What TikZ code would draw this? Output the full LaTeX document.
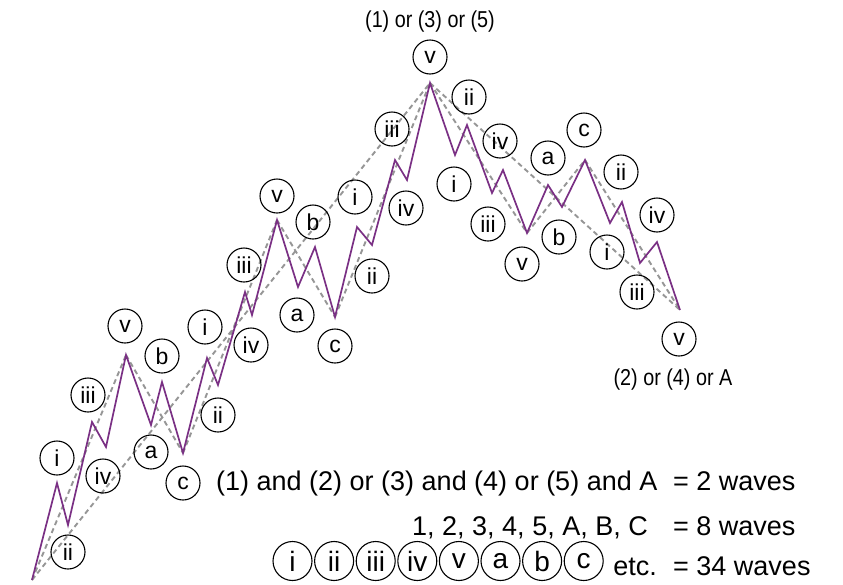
\documentclass[tikz,border=0pt]{standalone}
\usepackage{fontspec}
\setmainfont{Liberation Sans}
\newfontfamily\narrowsans[FakeStretch=0.86]{Liberation Sans}
\definecolor{wpurple}{RGB}{122,48,132}
\definecolor{dgray}{RGB}{150,150,150}
\begin{document}
\begin{tikzpicture}[x=1pt,y=-1pt,
  wv/.style={draw=black, line width=1.1pt, circle, minimum size=34pt, inner sep=0pt, font=\fontsize{23}{23}\selectfont},
  bw/.style={wv, minimum size=39pt, font=\fontsize{28}{28}\selectfont},
  trend/.style={draw=dgray, line width=1.9pt, dash pattern=on 5pt off 3.5pt},
  price/.style={draw=wpurple, line width=1.7pt, line join=miter},
  big/.style={font=\fontsize{27}{27}\selectfont, inner sep=0pt},
  ttl/.style={font=\narrowsans\fontsize{23}{23}\selectfont, inner sep=0pt}]
\useasboundingbox (0,0) rectangle (843,584);
% turning points
\coordinate (p0) at (32,580);
\coordinate (p1) at (57,483);
\coordinate (p2) at (68,525);
\coordinate (p3) at (92,422);
\coordinate (p4) at (106,447);
\coordinate (p5) at (126,355);
\coordinate (p6) at (151,425);
\coordinate (p7) at (162,382);
\coordinate (p8) at (183,453);
\coordinate (p9) at (207,358);
\coordinate (p10) at (218,385);
\coordinate (p11) at (245,292);
\coordinate (p12) at (252,315);
\coordinate (p13) at (277,220);
\coordinate (p14) at (298,287);
\coordinate (p15) at (315,247);
\coordinate (p16) at (335,317);
\coordinate (p17) at (357,227);
\coordinate (p18) at (372,245);
\coordinate (p19) at (395,160);
\coordinate (p20) at (407,180);
\coordinate (p21) at (430,83);
\coordinate (p22) at (455,155);
\coordinate (p23) at (467,125);
\coordinate (p24) at (492,193);
\coordinate (p25) at (503,170);
\coordinate (p26) at (527,233);
\coordinate (p27) at (548,185);
\coordinate (p28) at (562,207);
\coordinate (p29) at (585,160);
\coordinate (p30) at (610,223);
\coordinate (p31) at (622,202);
\coordinate (p32) at (640,263);
\coordinate (p33) at (657,242);
\coordinate (p34) at (680,310);
% trend lines
\draw[trend] (p0) -- (p5);
\draw[trend] (p5) -- (p8);
\draw[trend] (p8) -- (p13);
\draw[trend] (p13) -- (p16);
\draw[trend] (p16) -- (p21);
\draw[trend] (p21) -- (p26);
\draw[trend] (p26) -- (p29);
\draw[trend] (p29) -- (p34);
\draw[trend] (p0) -- (p21);
\draw[trend] (p21) -- (p34);
% price path
\draw[price] (p0) -- (p1) -- (p2) -- (p3) -- (p4) -- (p5) -- (p6) -- (p7) -- (p8)
  -- (p9) -- (p10) -- (p11) -- (p12) -- (p13) -- (p14) -- (p15) -- (p16)
  -- (p17) -- (p18) -- (p19) -- (p20) -- (p21) -- (p22) -- (p23) -- (p24)
  -- (p25) -- (p26) -- (p27) -- (p28) -- (p29) -- (p30) -- (p31) -- (p32)
  -- (p33) -- (p34);
% labels
\node[wv] (l1) at (57,458) {i};
\node[wv] (l2) at (68,552) {ii};
\node[wv] (l3) at (88,395) {iii};
\node[wv] (l4) at (103,476) {iv};
\node[wv] (l5) at (125,326) {v};
\node[wv] (l6) at (151,452) {a};
\node[wv] (l7) at (162,356) {b};
\node[wv] (l8) at (183,483) {c};
\node[wv] (l9) at (205,327) {i};
\node[wv] (l10) at (218,415) {ii};
\node[wv] (l11) at (244,265) {iii};
\node[wv] (l12) at (251,345) {iv};
\node[wv] (l13) at (277,196) {v};
\node[wv] (l14) at (297,315) {a};
\node[wv] (l15) at (313,222) {b};
\node[wv] (l16) at (335,346) {c};
\node[wv] (l17) at (355,197) {i};
\node[wv] (l18) at (372,276) {ii};
\node[wv] (l19) at (392,129) {iii};
\node[wv] (l20) at (406,208) {iv};
\node[wv] (l21) at (430,57) {v};
\node[wv] (l22) at (454,184) {i};
\node[wv] (l23) at (469,97) {ii};
\node[wv] (l24) at (488,224) {iii};
\node[wv] (l25) at (500,141) {iv};
\node[wv] (l26) at (522,264) {v};
\node[wv] (l27) at (548,158) {a};
\node[wv] (l28) at (559,237) {b};
\node[wv] (l29) at (584,130) {c};
\node[wv] (l30) at (607,252) {i};
\node[wv] (l31) at (621,172) {ii};
\node[wv] (l32) at (637,292) {iii};
\node[wv] (l33) at (657,215) {iv};
\node[wv] (l34) at (679,339) {v};
% degree captions
\node[ttl] (t1) at (430,22) {(1) or (3) or (5)};
\node[ttl] (t2) at (673,380) {(2) or (4) or A};
% legend
\node[big, anchor=base west] (s1) at (216,490) {(1) and (2) or (3) and (4) or (5) and A};
\node[big, anchor=base west] (e1) at (673,490) {= 2 waves};
\node[big, anchor=base east] (s2) at (648,535) {1, 2, 3, 4, 5, A, B, C};
\node[big, anchor=base west] (e2) at (673,535) {= 8 waves};
\node[bw] (b1) at (292.5,561) {i};
\node[bw] (b2) at (334.1,561) {ii};
\node[bw] (b3) at (375.7,561) {iii};
\node[bw] (b4) at (417.3,561) {iv};
\node[bw] (b5) at (458.9,561) {v};
\node[bw] (b6) at (500.5,561) {a};
\node[bw] (b7) at (542.1,561) {b};
\node[bw] (b8) at (583.7,561) {c};
\node[big, anchor=base east] (s3) at (657,575) {etc.};
\node[big, anchor=base west] (e3) at (673,575) {= 34 waves};
\end{tikzpicture}
\end{document}
